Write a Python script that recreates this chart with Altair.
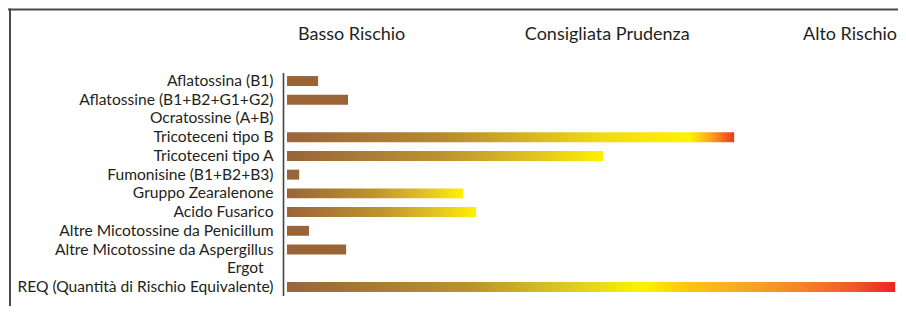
import altair as alt
import pandas as pd

# ---------------- data ----------------
categories = [
    "Aflatossina (B1)",
    "Aflatossine (B1+B2+G1+G2)",
    "Ocratossine (A+B)",
    "Tricoteceni tipo B",
    "Tricoteceni tipo A",
    "Fumonisine (B1+B2+B3)",
    "Gruppo Zearalenone",
    "Acido Fusarico",
    "Altre Micotossine da Penicillum",
    "Altre Micotossine da Aspergillus",
    "Ergot",
    "REQ (Quantità di Rischio Equivalente)",
]
values = [5.1, 10.0, 0.0, 73.3, 51.8, 2.0, 28.9, 31.0, 3.6, 9.7, 0.0, 99.7]

zones = ["Basso Rischio", "Consigliata Prudenza", "Alto Rischio"]
zone_pos = [10.6, 52.5, 92.3]

# ---------------- styles ----------------
BROWN = "#9A6439"
YELLOW = "#FFF100"
TEXT = "#231F20"
FONT = "Lato"


def grad(pairs):
    return {
        "gradient": "linear",
        "x1": 0, "x2": 1, "y1": 0, "y2": 0,
        "stops": [{"offset": o, "color": c} for o, c in pairs],
    }


BY = grad([(0, BROWN), (0.5, "#BD9430"), (0.8, "#E3C620"), (1, YELLOW)])
fills = {
    "Tricoteceni tipo B": grad([(0, BROWN), (0.35, "#B58A32"), (0.7, "#F0DA14"),
                                (0.9, "#FFF200"), (0.95, "#F8A11F"), (1, "#EE3524")]),
    "Tricoteceni tipo A": BY,
    "Gruppo Zearalenone": BY,
    "Acido Fusarico": BY,
    "REQ (Quantità di Rischio Equivalente)": grad([
        (0, BROWN), (0.3, "#BB922F"), (0.5, "#EAD41A"), (0.585, "#FFF200"),
        (0.66, "#FDC50F"), (0.76, "#F6A623"), (0.84, "#F4862A"),
        (0.93, "#F05A2A"), (1, "#EE2224")]),
}

df = pd.DataFrame({"name": categories, "value": values})
zdf = pd.DataFrame({"zone": zones, "pos": zone_pos})

y_enc = alt.Y(
    "name:N",
    sort=categories,
    scale=alt.Scale(domain=categories, paddingInner=0.47, paddingOuter=0.19),
    axis=alt.Axis(
        title=None, ticks=False, tickSize=0, offset=4,
        labelPadding=alt.condition(alt.datum.value == "Ergot", alt.value(20), alt.value(10)),
        domainColor="#444444", domainWidth=1.6, grid=False,
        labelFont=FONT, labelFontSize=15.6, labelColor=TEXT, labelLimit=400,
    ),
)
x_enc = alt.X("value:Q", scale=alt.Scale(domain=[0, 100], nice=False, zero=True), axis=None)

layers = []
for cat in categories:
    fill = fills.get(cat, BROWN)
    layers.append(
        alt.Chart(df)
        .transform_filter(alt.datum.name == cat)
        .mark_bar(color=fill)
        .encode(y=y_enc, x=x_enc)
    )

header = (
    alt.Chart(zdf)
    .mark_text(font=FONT, fontSize=18, color=TEXT, align="center", baseline="alphabetic")
    .encode(x=alt.X("pos:Q", scale=alt.Scale(domain=[0, 100], nice=False, zero=True), axis=None),
            y=alt.value(-33), text="zone:N")
)

one = pd.DataFrame({"k": [0]})
frame_top = alt.Chart(one).mark_rule(color="#4a4a4a", strokeWidth=2).encode(
    x=alt.value(-279), x2=alt.value(640), y=alt.value(-63))
frame_left = alt.Chart(one).mark_rule(color="#4a4a4a", strokeWidth=2).encode(
    x=alt.value(-277), y=alt.value(-64), y2=alt.value(260))

chart = (
    alt.layer(*layers, header, frame_top, frame_left)
    .properties(
        width=610, height=223,
        padding={"left": 279, "top": 64.5, "right": 1, "bottom": 10},
        autosize=alt.AutoSizeParams(type="none"),
        background="white",
    )
    .configure_view(stroke=None)
)

chart.save("out.html", embed_options={"renderer": "svg", "actions": False})
